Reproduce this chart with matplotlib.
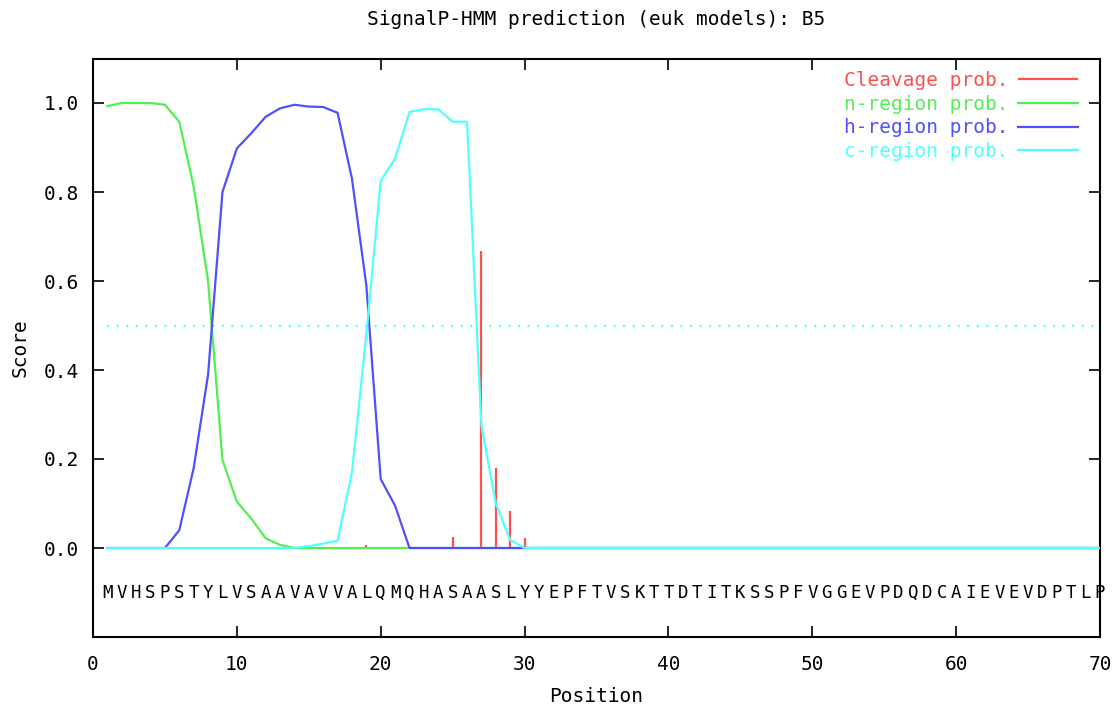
import matplotlib
matplotlib.use("Agg")
import matplotlib.pyplot as plt

# ---------------- data ----------------
title = "SignalP-HMM prediction (euk models): B5"
sequence = "MVHSPSTYLVSAAVAVVALQMQHASAASLYYEPFTVSKTTDTITKSSPFVGGEVPDQDCAIEVEVDPTLP"
positions = list(range(1, 71))

cleavage_pos = [19, 25, 27, 28, 29, 30]
cleavage_val = [0.006, 0.025, 0.668, 0.180, 0.084, 0.022]

n_region = [0.993, 1.000, 1.000, 1.000, 0.996, 0.958, 0.812, 0.600, 0.198, 0.104,
            0.066, 0.022, 0.007, 0.000, 0.000, 0.000, 0.000, 0.000, 0.000, 0.000,
            0.000, 0.000, 0.000, 0.000, 0.000, 0.000, 0.000, 0.000, 0.000, 0.000,
            0.000, 0.000, 0.000, 0.000, 0.000, 0.000, 0.000, 0.000, 0.000, 0.000,
            0.000, 0.000, 0.000, 0.000, 0.000, 0.000, 0.000, 0.000, 0.000, 0.000,
            0.000, 0.000, 0.000, 0.000, 0.000, 0.000, 0.000, 0.000, 0.000, 0.000,
            0.000, 0.000, 0.000, 0.000, 0.000, 0.000, 0.000, 0.000, 0.000, 0.000]

h_region = [0.000, 0.000, 0.000, 0.000, 0.000, 0.040, 0.180, 0.390, 0.800, 0.898,
            0.932, 0.969, 0.988, 0.996, 0.992, 0.991, 0.978, 0.830, 0.590, 0.155,
            0.095, 0.000, 0.000, 0.000, 0.000, 0.000, 0.000, 0.000, 0.000, 0.000,
            0.000, 0.000, 0.000, 0.000, 0.000, 0.000, 0.000, 0.000, 0.000, 0.000,
            0.000, 0.000, 0.000, 0.000, 0.000, 0.000, 0.000, 0.000, 0.000, 0.000,
            0.000, 0.000, 0.000, 0.000, 0.000, 0.000, 0.000, 0.000, 0.000, 0.000,
            0.000, 0.000, 0.000, 0.000, 0.000, 0.000, 0.000, 0.000, 0.000, 0.000]

c_region = [0.000, 0.000, 0.000, 0.000, 0.000, 0.000, 0.000, 0.000, 0.000, 0.000,
            0.000, 0.000, 0.000, 0.000, 0.004, 0.010, 0.016, 0.170, 0.480, 0.825,
            0.875, 0.980, 0.986, 0.986, 0.958, 0.958, 0.275, 0.100, 0.018, 0.000,
            0.000, 0.000, 0.000, 0.000, 0.000, 0.000, 0.000, 0.000, 0.000, 0.000,
            0.000, 0.000, 0.000, 0.000, 0.000, 0.000, 0.000, 0.000, 0.000, 0.000,
            0.000, 0.000, 0.000, 0.000, 0.000, 0.000, 0.000, 0.000, 0.000, 0.000,
            0.000, 0.000, 0.000, 0.000, 0.000, 0.000, 0.000, 0.000, 0.000, 0.000]

threshold = 0.5
x_ticks = [0, 10, 20, 30, 40, 50, 60, 70]
y_ticks = [0.0, 0.2, 0.4, 0.6, 0.8, 1.0]

# ---------------- style ----------------
MONO = "DejaVu Sans Mono"
plt.rcParams['font.family'] = [MONO, 'DejaVu Sans']
RED = '#ff5050'
GREEN = '#50f050'
BLUE = '#5050ff'
CYAN = '#50ffff'
FS = 14

fig = plt.figure(figsize=(11.18, 7.11), dpi=100)
ax = fig.add_axes([93 / 1118, 74 / 711, 1007 / 1118, 578.5 / 711])
ax.set_xlim(0, 70)
ax.set_ylim(-0.2, 1.1)

lw = 1.6
ax.vlines(cleavage_pos, 0, cleavage_val, colors=RED, linewidth=lw, zorder=2,
          label="Cleavage prob.")
ax.plot(positions, n_region, color=GREEN, linewidth=lw, zorder=3, label="n-region prob.")
ax.plot(positions, h_region, color=BLUE, linewidth=lw, zorder=4, label="h-region prob.")
ax.plot(positions, c_region, color=CYAN, linewidth=lw, zorder=5, label="c-region prob.")
ax.plot([positions[0], positions[-1]], [threshold, threshold], color=CYAN,
        linewidth=1.6, linestyle=(0, (1, 3.3)), zorder=1)

for i, ch in zip(positions, sequence):
    ax.text(i, -0.1, ch, ha='center', va='center', fontsize=12.5, family=MONO)

ax.set_xticks(x_ticks)
ax.set_yticks(y_ticks)
ax.set_yticklabels([f"{v:.1f}" for v in y_ticks])
ax.tick_params(direction='in', length=8, width=1.2, top=True, right=True,
               labelsize=FS, pad=10)
ax.tick_params(axis='x', pad=13)
for s in ax.spines.values():
    s.set_linewidth(1.5)

ax.set_xlabel("Position", fontsize=FS, labelpad=9)
ax.set_ylabel("Score", fontsize=FS, labelpad=10)
ax.set_title(title, fontsize=FS, pad=24)

leg = ax.legend(loc='upper right', bbox_to_anchor=(0.978, 0.979), markerfirst=False,
                frameon=False, labelcolor='linecolor', fontsize=FS, handlelength=3.1,
                handletextpad=0.45, labelspacing=0.25, borderpad=0, borderaxespad=0)
for t, c in zip(leg.get_texts(), [RED, GREEN, BLUE, CYAN]):
    t.set_color(c)

fig.savefig("out.png", dpi=100)
